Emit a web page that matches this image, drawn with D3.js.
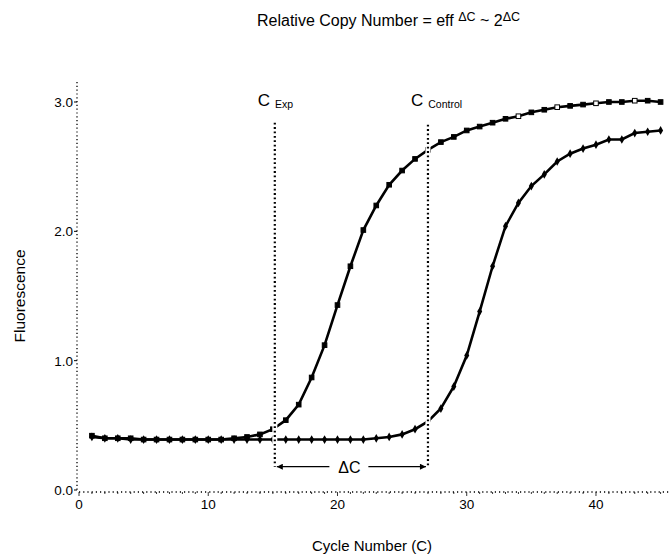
<!DOCTYPE html>
<html>
<head>
<meta charset="utf-8">
<script src="https://cdn.jsdelivr.net/npm/d3@7"></script>
<style>
  body { margin: 0; background: #fff; }
  svg { font-family: "Liberation Sans", Arial, sans-serif; }
</style>
</head>
<body>
<div id="chart"></div>
<script>
const cycles = d3.range(1, 46);
const expValues = [0.42, 0.40, 0.40, 0.40, 0.39, 0.39, 0.39, 0.39, 0.39, 0.39,
  0.39, 0.40, 0.41, 0.43, 0.47, 0.54, 0.66, 0.87, 1.12, 1.43,
  1.73, 2.01, 2.20, 2.36, 2.47, 2.56, 2.63, 2.69, 2.73, 2.78,
  2.81, 2.84, 2.87, 2.89, 2.92, 2.94, 2.96, 2.97, 2.98, 2.99,
  3.00, 3.00, 3.01, 3.01, 3.00];
const controlValues = [0.41, 0.40, 0.40, 0.39, 0.39, 0.39, 0.39, 0.39, 0.39, 0.39,
  0.39, 0.39, 0.39, 0.39, 0.39, 0.39, 0.39, 0.39, 0.39, 0.39,
  0.39, 0.39, 0.40, 0.41, 0.43, 0.47, 0.53, 0.63, 0.80, 1.04,
  1.38, 1.73, 2.04, 2.22, 2.35, 2.44, 2.54, 2.60, 2.64, 2.67,
  2.71, 2.71, 2.76, 2.77, 2.78];
const xTicks = [0, 10, 20, 30, 40];
const yTicks = [0, 1, 2, 3];
const thresholdCycles = [15.15, 27.0];
const thresholdNames = ["Exp", "Control"];
const thresholdRange = [0.18, 2.84];

const width = 669;
const height = 557;

const svg = d3.select("#chart").append("svg")
  .attr("width", width)
  .attr("height", height);

const x = d3.scaleLinear().domain([0, 45]).range([79, 660.6]);
const y = d3.scaleLinear().domain([0, 3]).range([490, 102]);

// title
const title = svg.append("text")
  .attr("x", 257).attr("y", 26)
  .attr("font-size", 16);
title.append("tspan").text("Relative Copy Number = eff ");
title.append("tspan").attr("dy", -5).attr("font-size", 12.5).text("\u0394C");
title.append("tspan").attr("dy", 5).text(" ~ 2");
title.append("tspan").attr("dy", -5).attr("font-size", 12.5).text("\u0394C");

// axes: dotted lines with small ticks
svg.append("line")
  .attr("x1", x(0)).attr("x2", width)
  .attr("y1", y(0) + 2).attr("y2", y(0) + 2)
  .attr("stroke", "#000").attr("stroke-width", 1.3)
  .attr("stroke-dasharray", "1.2,3");
svg.append("line")
  .attr("x1", x(0) - 2).attr("x2", x(0) - 2)
  .attr("y1", 82).attr("y2", y(0) + 2)
  .attr("stroke", "#000").attr("stroke-width", 1.3)
  .attr("stroke-dasharray", "1.2,2.6");

svg.append("g").selectAll("line")
  .data(d3.range(0, 46))
  .join("line")
  .attr("x1", d => x(d)).attr("x2", d => x(d))
  .attr("y1", y(0) + 2).attr("y2", d => y(0) + (d % 10 === 0 ? 6 : 4))
  .attr("stroke", "#000").attr("stroke-width", 0.8);

svg.append("g").selectAll("text")
  .data(xTicks)
  .join("text")
  .attr("x", d => x(d)).attr("y", y(0) + 19)
  .attr("text-anchor", "middle")
  .attr("font-size", 13.5)
  .text(d => d);

svg.append("g").selectAll("line")
  .data(yTicks)
  .join("line")
  .attr("x1", x(0) - 5).attr("x2", x(0) - 2)
  .attr("y1", d => y(d)).attr("y2", d => y(d))
  .attr("stroke", "#000").attr("stroke-width", 1);

svg.append("g").selectAll("text")
  .data(yTicks)
  .join("text")
  .attr("x", x(0) - 6).attr("y", d => y(d) + 5)
  .attr("text-anchor", "end")
  .attr("font-size", 13.5)
  .text(d => d3.format(".1f")(d));

svg.append("text")
  .attr("x", 372).attr("y", 551)
  .attr("text-anchor", "middle")
  .attr("font-size", 15)
  .text("Cycle Number (C)");

svg.append("text")
  .attr("transform", `translate(25, ${y(1.5)}) rotate(-90)`)
  .attr("text-anchor", "middle")
  .attr("font-size", 15.5)
  .text("Fluorescence");

// curves
const line = d3.line().x((d, i) => x(cycles[i])).y(d => y(d));

svg.append("path").datum(controlValues)
  .attr("fill", "none").attr("stroke", "#000").attr("stroke-width", 2.6)
  .attr("d", line);
svg.append("g").selectAll("path")
  .data(controlValues)
  .join("path")
  .attr("transform", (d, i) => `translate(${x(cycles[i])},${y(d)})`)
  .attr("d", d3.symbol(d3.symbolDiamond, 22))
  .attr("fill", "#000");

svg.append("path").datum(expValues)
  .attr("fill", "none").attr("stroke", "#000").attr("stroke-width", 2.6)
  .attr("d", line);
svg.append("g").selectAll("rect")
  .data(expValues)
  .join("rect")
  .attr("x", (d, i) => x(cycles[i]) - 2.3)
  .attr("y", d => y(d) - 2.3)
  .attr("width", 4.6).attr("height", 4.6)
  .attr("fill", (d, i) => i > 30 && i % 3 === 0 ? "#fff" : "#000")
  .attr("stroke", "#000").attr("stroke-width", 1);

// threshold lines with white gap behind
thresholdCycles.forEach((c, i) => {
  svg.append("line")
    .attr("x1", x(c)).attr("x2", x(c))
    .attr("y1", y(thresholdRange[1]) + (i ? 2 : 0)).attr("y2", y(thresholdRange[0]))
    .attr("stroke", "#fff").attr("stroke-width", 5);
  svg.append("line")
    .attr("x1", x(c)).attr("x2", x(c))
    .attr("y1", y(thresholdRange[1]) + (i ? 2 : 0)).attr("y2", y(thresholdRange[0]))
    .attr("stroke", "#000").attr("stroke-width", 2.2)
    .attr("stroke-dasharray", "1.8,2.6");
  const lab = svg.append("text")
    .attr("x", x(c) - 17).attr("y", 106);
  lab.append("tspan").attr("font-size", 17).text("C");
  lab.append("tspan").attr("dx", 5).attr("dy", 2).attr("font-size", 10.5).text(thresholdNames[i]);
});

// delta C arrow
const ay = y(thresholdRange[0]);
const mid = (x(thresholdCycles[0]) + x(thresholdCycles[1])) / 2;
svg.append("defs").append("marker")
  .attr("id", "head").attr("viewBox", "0 0 10 10")
  .attr("refX", 10).attr("refY", 5)
  .attr("markerWidth", 9).attr("markerHeight", 6)
  .attr("markerUnits", "userSpaceOnUse")
  .attr("orient", "auto-start-reverse")
  .append("path").attr("d", "M0,0L10,5L0,10Z").attr("fill", "#000");
svg.append("line")
  .attr("x1", mid - 22).attr("x2", x(thresholdCycles[0]) + 2)
  .attr("y1", ay).attr("y2", ay)
  .attr("stroke", "#000").attr("stroke-width", 1.2)
  .attr("marker-end", "url(#head)");
svg.append("line")
  .attr("x1", mid + 17).attr("x2", x(thresholdCycles[1]) - 2)
  .attr("y1", ay).attr("y2", ay)
  .attr("stroke", "#000").attr("stroke-width", 1.2)
  .attr("marker-end", "url(#head)");
svg.append("text")
  .attr("x", mid - 2).attr("y", ay + 6)
  .attr("text-anchor", "middle")
  .attr("font-size", 16)
  .text("\u0394C");
</script>
</body>
</html>
